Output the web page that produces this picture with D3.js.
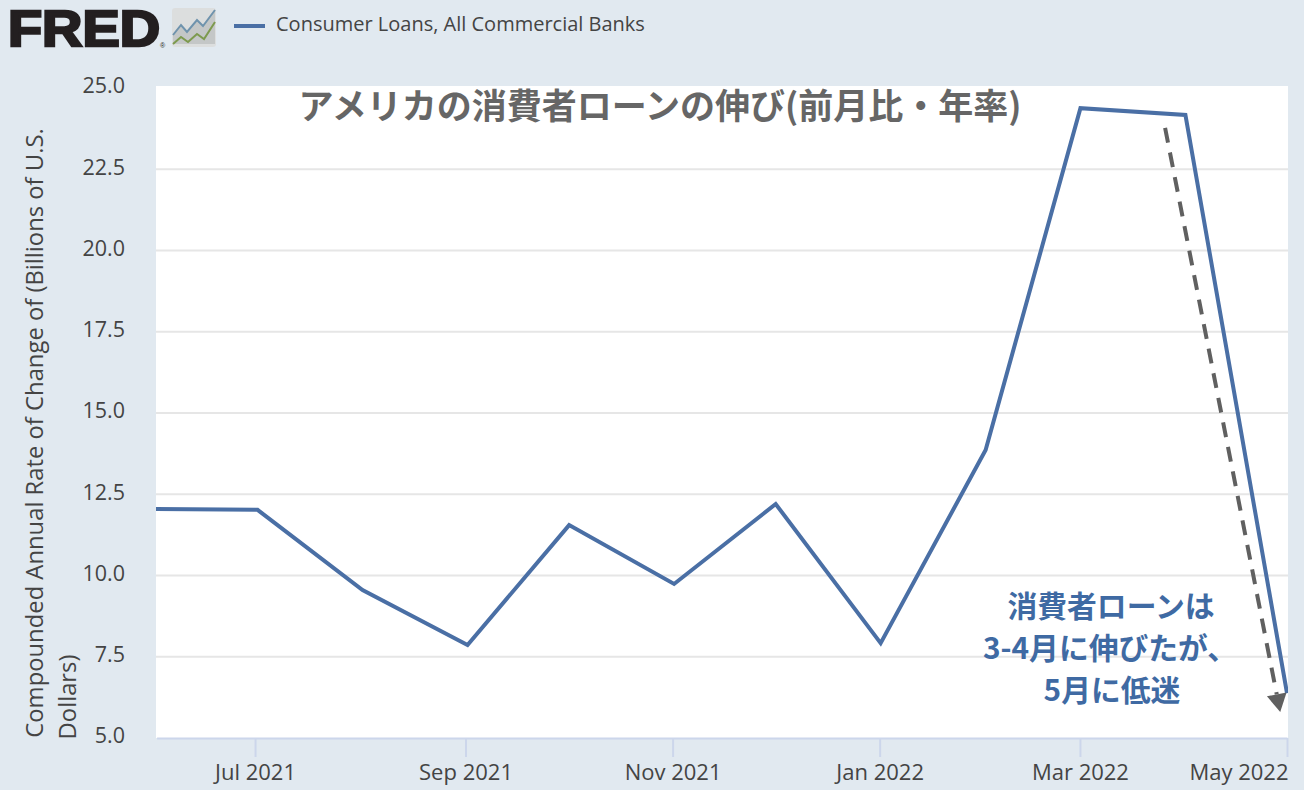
<!DOCTYPE html>
<html><head><meta charset="utf-8">
<script src="https://cdn.jsdelivr.net/npm/d3@7/dist/d3.min.js"></script>
<style>html,body{margin:0;padding:0;background:#e1e9f0;overflow:hidden}svg{display:block}</style>
</head><body><svg id="c" width="1304" height="790"></svg>
<script>
const months = ["2021-06-01","2021-07-01","2021-08-01","2021-09-01","2021-10-01","2021-11-01","2021-12-01","2022-01-01","2022-02-01","2022-03-01","2022-04-01","2022-05-01"];
const values = [12.05,12.02,9.55,7.86,11.55,9.74,12.2,7.92,13.86,24.38,24.17,6.38];
const yTicks = [5,7.5,10,12.5,15,17.5,20,22.5,25];
const xTicks = ["2021-07-01","2021-09-01","2021-11-01","2022-01-01","2022-03-01","2022-05-01"];
const seriesName = "Consumer Loans, All Commercial Banks";
const chartTitle = "アメリカの消費者ローンの伸び(前月比・年率)";
const yTitle = ["Compounded Annual Rate of Change of (Billions of U.S.","Dollars)"];
const note = ["消費者ローンは","3-4月に伸びたが、","5月に低迷"];

const parse = d3.utcParse("%Y-%m-%d");
const fmt = d3.utcFormat("%b %Y");
const L=156,R=1288,T=86,B=738;
const x = d3.scaleUtc().domain([parse("2021-06-01"),parse("2022-05-01")]).range([L,R-1]);
const xt = d3.scaleUtc().domain([parse("2021-06-02"),parse("2022-05-01")]).range([L+0.6,R-1]);
const y = d3.scaleLinear().domain([5,25]).range([B,88]);
const svg = d3.select("#c");
const font = "'Open Sans',sans-serif", cjk="'Noto Sans CJK JP',sans-serif";
svg.append("rect").attr("width",1304).attr("height",790).attr("fill","#e1e9f0");
svg.append("rect").attr("x",L).attr("y",T).attr("width",R-L).attr("height",B-T).attr("fill","#fff");
svg.append("defs").append("clipPath").attr("id","p").append("rect").attr("x",L).attr("y",T-5).attr("width",R-L).attr("height",B-T+5);

// grid
svg.append("g").selectAll("line").data(yTicks.filter(d=>d>5&&d<25)).join("line")
  .attr("x1",L).attr("x2",R).attr("y1",d=>y(d)).attr("y2",d=>y(d)).attr("stroke","#e6e6e6").attr("stroke-width",2);

// y axis
const gy = svg.append("g").attr("transform",`translate(${L},0)`).call(d3.axisLeft(y).tickValues(yTicks).tickFormat(d3.format(".1f")).tickSize(0).tickPadding(31));
gy.select(".domain").remove();
gy.selectAll("text").attr("font-family",font).attr("font-size",21.5).attr("fill","#444").attr("dy","0.23em");

// x axis
const gx = svg.append("g").attr("transform",`translate(0,${B})`).call(d3.axisBottom(xt).tickValues(xTicks.map(parse)).tickFormat(fmt).tickSizeInner(19).tickSizeOuter(0).tickPadding(7));
gx.select(".domain").attr("stroke","#ccd6eb").attr("stroke-width",2);
gx.selectAll("line").attr("stroke","#ccd6eb").attr("stroke-width",2);
gx.selectAll("text").attr("font-family",font).attr("font-size",22).attr("fill","#444");
gx.selectAll(".tick").filter((d,i)=>i===xTicks.length-1).select("text").attr("text-anchor","end").attr("dx",1);

// y title
svg.append("g").selectAll("text").data(yTitle).join("text")
  .attr("transform",(d,i)=>i?"translate(68,697) rotate(-90)":"translate(35,433) rotate(-90)").attr("dy","0.35em")
  .attr("text-anchor","middle")
  .attr("font-family",font).attr("font-size",23.8).attr("fill","#444").text(d=>d);

// line
const line = d3.line().x((d,i)=>x(parse(months[i]))).y(d=>y(d));
svg.append("path").datum(values).attr("d",line).attr("fill","none").attr("stroke","#4a6fa5").attr("stroke-width",4).attr("stroke-linejoin","miter").attr("clip-path","url(#p)");

// title
svg.append("text").attr("x",660).attr("y",119).attr("text-anchor","middle").attr("font-family",cjk).attr("font-weight",700).attr("font-size",35).attr("fill","#666").text(chartTitle);

// arrow annotation
const ax0=x(parse("2022-03-26")), ay0=y(23.77), ax1=x(parse("2022-04-29")), ay1=y(5.8);
const dx=ax1-ax0, dy=ay1-ay0, len=Math.hypot(dx,dy), ux=dx/len, uy=dy/len;
svg.append("line").attr("x1",ax0).attr("y1",ay0).attr("x2",ax1-ux*18).attr("y2",ay1-uy*18)
  .attr("stroke","#606060").attr("stroke-width",4).attr("stroke-dasharray","15 10");
const hb=[ax1-ux*18-uy*10, ay1-uy*18+ux*10], hc=[ax1-ux*18+uy*10, ay1-uy*18-ux*10];
svg.append("path").attr("d",`M${ax1},${ay1}L${hb}L${hc}Z`).attr("fill","#606060");

// note
svg.append("g").selectAll("text").data(note).join("text")
  .attr("x",(d,i)=>[1111,1110,1112][i]).attr("y",(d,i)=>617+i*42)
  .attr("text-anchor","middle").attr("font-family",cjk).attr("font-weight",700).attr("font-size",29.8).attr("fill","#3f6aa3").text(d=>d);

// legend
svg.append("line").attr("x1",234).attr("x2",265).attr("y1",26).attr("y2",26).attr("stroke","#4a6fa5").attr("stroke-width",4);
svg.append("text").attr("x",276).attr("y",31).attr("font-family",font).attr("font-size",20).attr("fill","#444").text(seriesName);

// logo
svg.append("text").attr("x",8).attr("y",46).attr("font-family","'Liberation Sans',sans-serif").attr("font-weight",700).attr("font-size",50)
  .attr("textLength",152).attr("lengthAdjust","spacingAndGlyphs").attr("fill","#231f20").attr("stroke","#231f20").attr("stroke-width",2.5).text("FRED");
svg.append("text").attr("x",160).attr("y",48).attr("font-family","'Liberation Sans',sans-serif").attr("font-size",7).attr("fill","#231f20").text("®");
const ic=svg.append("g").attr("transform","translate(172,8)");
ic.append("rect").attr("width",44).attr("height",39).attr("rx",3).attr("fill","#dcdede");
ic.append("path").attr("d","M1,36L1,27L9,17L15,24L25,12L31,18L43,2L43,36Z").attr("fill","#c4c7c7");
ic.append("path").attr("d","M1,27L9,17L15,24L25,12L31,18L43,2").attr("fill","none").attr("stroke","#6f93ad").attr("stroke-width",2);
ic.append("path").attr("d","M1,36L9,29L16,34L25,26L32,31L43,14").attr("fill","none").attr("stroke","#7d9a4e").attr("stroke-width",2);
</script></body></html>
